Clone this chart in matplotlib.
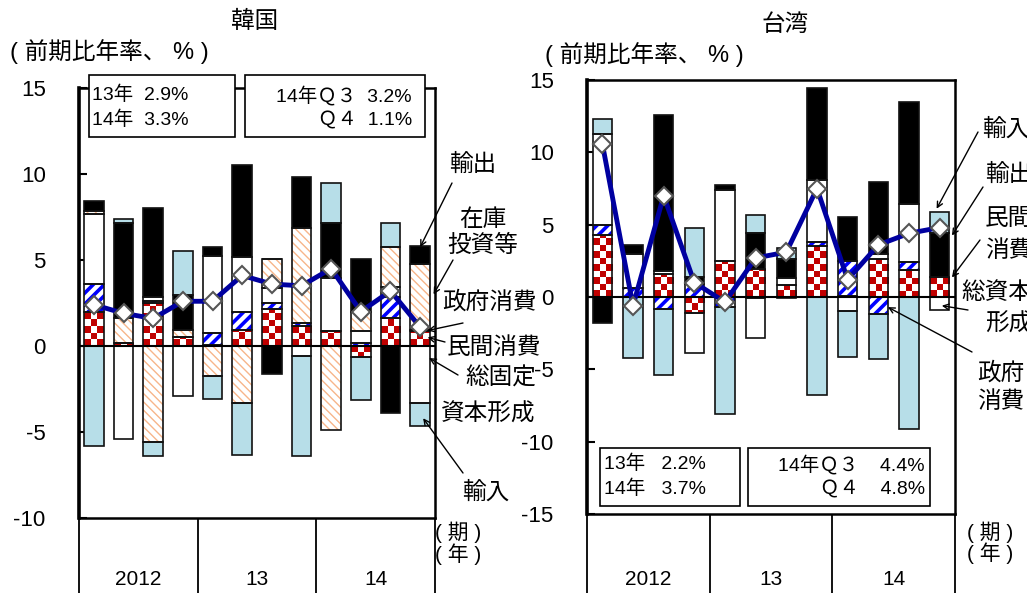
import numpy as np
import matplotlib
matplotlib.use("Agg")
import matplotlib.pyplot as plt
from matplotlib.colors import ListedColormap
from matplotlib.patches import Rectangle

plt.rcParams['font.family'] = ['Liberation Sans', 'Noto Sans CJK JP']
plt.rcParams['axes.unicode_minus'] = False

# ---- data ----
quarters = ["12Q1", "12Q2", "12Q3", "12Q4", "13Q1", "13Q2", "13Q3", "13Q4",
            "14Q1", "14Q2", "14Q3", "14Q4"]
year_labels = ["2012", "13", "14"]

# Korea: contributions to q/q annualised growth
kr_private = [2.0, 0.15, 2.5, 0.55, 0.05, 0.95, 2.15, 1.15, 0.85, -0.65, 1.6, 0.9]
kr_gov = [1.6, 0.0, 0.1, 0.0, 0.7, 1.0, 0.35, 0.2, 0.0, 0.2, 1.25, 0.05]
kr_gfcf = [4.05, -5.4, 0.25, -2.9, 4.5, 3.2, 0.85, -0.6, 3.1, 0.65, 0.6, -3.3]
kr_inventory = [0.2, 1.5, -5.6, 0.4, -1.75, -3.3, 1.7, 5.5, -4.9, 1.1, 2.3, 3.8]
kr_exports = [0.6, 5.5, 5.2, 2.0, 0.5, 5.4, -1.6, 2.95, 3.2, 3.1, -3.9, 1.05]
kr_imports = [-5.8, 0.25, -0.8, 2.6, -1.35, -3.05, 0.0, -5.8, 2.3, -2.5, 1.4, -1.35]
kr_gdp = [2.4, 1.9, 1.6, 2.6, 2.6, 4.1, 3.6, 3.5, 4.5, 2.0, 3.2, 1.1]
kr_box1 = "13年  2.9%\n14年  3.3%"
kr_box2 = "14年Ｑ３  3.2%\nＱ４  1.1%"

# Taiwan
tw_private = [4.3, 0.0, 1.6, -1.1, 2.5, 1.95, 0.8, 3.55, 0.1, 2.6, 1.85, 1.35]
tw_gov = [0.7, 0.65, -0.8, 0.9, -0.7, -0.1, -0.1, 0.25, 2.4, -1.2, 0.55, 0.0]
tw_gcf = [6.3, 2.3, 0.2, -2.8, 4.9, -2.75, 0.5, 4.3, -1.0, 0.4, 4.05, -0.9]
tw_exports = [-1.8, 0.65, 10.8, 0.45, 0.35, 2.5, 1.3, 6.35, 3.05, 4.95, 7.05, 3.1]
tw_imports = [0.97, -4.2, -4.6, 3.45, -7.4, 1.2, 0.8, -6.8, -3.15, -3.1, -9.1, 1.4]
tw_gdp = [10.6, -0.6, 7.0, 1.0, -0.35, 2.7, 3.1, 7.5, 1.2, 3.6, 4.4, 4.8]
tw_box1 = "13年   2.2%\n14年   3.7%"
tw_box2 = "14年Ｑ３    4.4%\nＱ４    4.8%"

styles = {
    "民間消費": dict(face="#C00000", checker=True),
    "政府消費": dict(face="white", hatch="///", hcolor="#0000FF", hlw=2.6),
    "総固定資本形成": dict(face="white"),
    "在庫投資等": dict(face="white", hatch="\\\\\\\\", hcolor="#F7B58A", hlw=1.0),
    "輸出": dict(face="black"),
    "輸入": dict(face="#B7DEE8"),
}

W, H = 1027, 593


def fp(x, y):
    return (x / W, 1 - y / H)


def add_checker(ax, bars, ncol=3):
    fig = ax.figure
    pos = ax.get_position()
    w_px = pos.width * fig.get_figwidth() * fig.dpi
    h_px = pos.height * fig.get_figheight() * fig.dpi
    x0, x1 = ax.get_xlim()
    y0, y1 = ax.get_ylim()
    px_x = w_px / (x1 - x0)
    px_y = h_px / (y1 - y0)
    cmap = ListedColormap(["#C00000", "white"])
    for b in bars:
        h = b.get_height()
        if h == 0:
            continue
        cw = b.get_width() / ncol
        ch = cw * px_x / px_y
        nrow = int(abs(h) / ch) + 2
        grid = np.add.outer(np.arange(nrow), np.arange(ncol)) % 2
        start = b.get_y()
        end = start + np.sign(h) * nrow * ch
        im = ax.imshow(grid, cmap=cmap, vmin=0, vmax=1, origin="lower",
                       extent=(b.get_x(), b.get_x() + b.get_width(), start, end),
                       interpolation="nearest", aspect="auto", zorder=2.5)
        im.set_clip_path(b)


def stacked(ax, series, width):
    x = np.arange(len(quarters))
    pos = np.zeros(len(x))
    neg = np.zeros(len(x))
    for name, vals in series:
        vals = np.asarray(vals, float)
        base = np.where(vals >= 0, pos, neg)
        st = styles[name]
        bars = ax.bar(x, vals, width, bottom=base, color=st["face"],
                      edgecolor=st.get("hcolor", "none"), hatch=st.get("hatch"),
                      linewidth=0, zorder=2)
        if st.get("hatch"):
            for b in bars:
                b.set_hatch_linewidth(st["hlw"])
        if st.get("checker"):
            add_checker(ax, bars)
        ax.bar(x, vals, width, bottom=base, facecolor="none", edgecolor="#111111",
               linewidth=1.2, zorder=3)
        pos += np.where(vals >= 0, vals, 0)
        neg += np.where(vals < 0, vals, 0)


def setup(ax, ylim, sep_len, year_y):
    ax.set_xlim(-0.5, len(quarters) - 0.5)
    ax.set_ylim(*ylim)
    ax.set_yticks(np.arange(ylim[0], ylim[1] + 1, 5))
    ax.set_xticks([])
    ax.tick_params(axis="y", direction="in", length=6, width=1.5, pad=24, labelsize=16)
    for s in ax.spines.values():
        s.set_linewidth(1.8)
    ax.spines["left"].set_linewidth(2.6)
    ax.axhline(0, color="black", lw=1.5, zorder=3.5)
    tr = ax.get_xaxis_transform()
    ax.vlines([-0.5, 3.5, 7.5, 11.5], -sep_len, 0, transform=tr, colors="black",
              lw=1.3, clip_on=False)
    for i, lab in enumerate(year_labels):
        ax.text(1.5 + 4 * i, year_y, lab, transform=tr, ha="center", va="center",
                fontsize=15)


def gdp_line(ax, vals):
    ax.plot(np.arange(len(quarters)), vals, color="#0000A0", lw=3.5, zorder=5,
            marker="D", ms=9, mfc="white", mec="#555555", mew=1.5)


def arrow(ax, xy, start):
    ax.annotate("", xy=xy, xytext=fp(*start), textcoords="figure fraction",
                arrowprops=dict(arrowstyle="->", lw=1.0, color="black",
                                shrinkA=0, shrinkB=0), zorder=7)


fig = plt.figure(figsize=(10.27, 5.93), dpi=100)

# ---------------- Korea ----------------
ax1 = fig.add_axes([79 / W, 75 / H, 356 / W, 430 / H])
setup(ax1, (-10, 15), 0.175, -0.144)
stacked(ax1, [("民間消費", kr_private), ("政府消費", kr_gov),
              ("総固定資本形成", kr_gfcf), ("在庫投資等", kr_inventory),
              ("輸出", kr_exports), ("輸入", kr_imports)], 0.66)
gdp_line(ax1, kr_gdp)
ax1.set_xlim(-0.5, len(quarters) - 0.5)
ax1.set_ylim(-10, 15)

for (bx0, bx1) in [(0.028, 0.438), (0.466, 0.972)]:
    ax1.add_patch(Rectangle((bx0, 0.886), bx1 - bx0, 0.144, transform=ax1.transAxes,
                            facecolor="white", edgecolor="black", lw=1.2,
                            clip_on=False, zorder=6))
ax1.text(0.037, 0.955, kr_box1, transform=ax1.transAxes, ha="left", va="center",
         fontsize=14, linespacing=1.45, zorder=7)
ax1.text(0.935, 0.955, kr_box2, transform=ax1.transAxes, ha="right", va="center",
         fontsize=14, linespacing=1.45, multialignment="right", zorder=7)

fig.text(*fp(255, 22), "韓国", ha="center", va="center", fontsize=17)
fig.text(*fp(10, 52), "( 前期比年率、 % )", ha="left", va="center", fontsize=17)

fig.text(*fp(473, 165), "輸出", ha="center", va="center", fontsize=17)
fig.text(*fp(483, 233), "在庫\n投資等", ha="center", va="center", fontsize=17,
         linespacing=1.2)
fig.text(*fp(489, 302), "政府消費", ha="center", va="center", fontsize=17)
fig.text(*fp(494, 348), "民間消費", ha="center", va="center", fontsize=17)
fig.text(*fp(501, 378), "総固定", ha="center", va="center", fontsize=17)
fig.text(*fp(488, 415), "資本形成", ha="center", va="center", fontsize=17)
fig.text(*fp(486, 493), "輸入", ha="center", va="center", fontsize=17)
arrow(ax1, (11.0, 5.75), (452, 183))
arrow(ax1, (11.45, 3.0), (453, 260))
arrow(ax1, (11.25, 0.9), (463, 323))
arrow(ax1, (11.25, 0.5), (445, 342))
arrow(ax1, (11.3, -0.7), (458, 375))
arrow(ax1, (11.1, -4.2), (463, 473))
fig.text(*fp(458, 532), "( 期 )", ha="center", va="center", fontsize=15)
fig.text(*fp(458, 554), "( 年 )", ha="center", va="center", fontsize=15)

# ---------------- Taiwan ----------------
ax2 = fig.add_axes([587 / W, 79 / H, 368 / W, 434 / H])
setup(ax2, (-15, 15), 0.182, -0.152)
stacked(ax2, [("民間消費", tw_private), ("政府消費", tw_gov),
              ("総固定資本形成", tw_gcf), ("輸出", tw_exports),
              ("輸入", tw_imports)], 0.63)
gdp_line(ax2, tw_gdp)
ax2.set_xlim(-0.5, len(quarters) - 0.5)
ax2.set_ylim(-15, 15)

for (bx0, bx1) in [(0.035, 0.416), (0.4375, 0.932)]:
    ax2.add_patch(Rectangle((bx0, 0.018), bx1 - bx0, 0.134, transform=ax2.transAxes,
                            facecolor="white", edgecolor="black", lw=1.2,
                            clip_on=False, zorder=6))
ax2.text(0.046, 0.087, tw_box1, transform=ax2.transAxes, ha="left", va="center",
         fontsize=14, linespacing=1.45, zorder=7)
ax2.text(0.918, 0.087, tw_box2, transform=ax2.transAxes, ha="right", va="center",
         fontsize=14, linespacing=1.45, multialignment="right", zorder=7)

fig.text(*fp(785, 25), "台湾", ha="center", va="center", fontsize=17)
fig.text(*fp(545, 55), "( 前期比年率、 % )", ha="left", va="center", fontsize=17)

fig.text(*fp(982, 130), "輸入", ha="left", va="center", fontsize=17)
fig.text(*fp(985, 175), "輸出", ha="left", va="center", fontsize=17)
fig.text(*fp(985, 219), "民間", ha="left", va="center", fontsize=17)
fig.text(*fp(985, 251), "消費", ha="left", va="center", fontsize=17)
fig.text(*fp(961, 293), "総資本", ha="left", va="center", fontsize=17)
fig.text(*fp(985, 325), "形成", ha="left", va="center", fontsize=17)
fig.text(*fp(977, 373), "政府", ha="left", va="center", fontsize=17)
fig.text(*fp(977, 402), "消費", ha="left", va="center", fontsize=17)
arrow(ax2, (10.9, 6.1), (978, 132))
arrow(ax2, (11.4, 4.25), (983, 187))
arrow(ax2, (11.4, 1.35), (980, 240))
arrow(ax2, (11.07, -0.6), (968, 310))
arrow(ax2, (9.31, -0.7), (972, 352))
fig.text(*fp(990, 532), "( 期 )", ha="center", va="center", fontsize=15)
fig.text(*fp(990, 553), "( 年 )", ha="center", va="center", fontsize=15)

fig.savefig("out.png", dpi=100)
